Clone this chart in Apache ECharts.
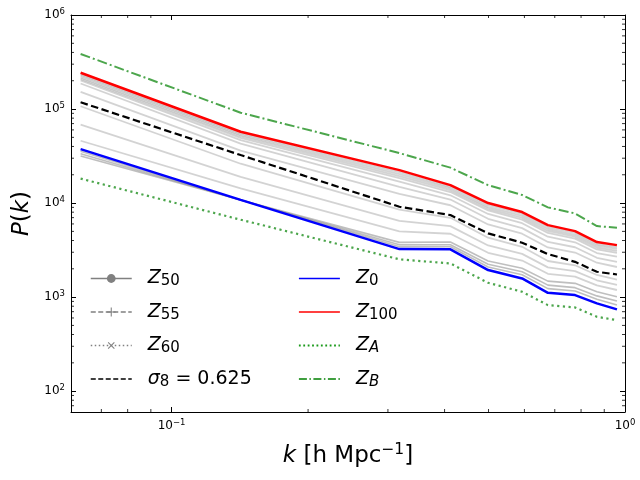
<!DOCTYPE html>
<html><head><meta charset="utf-8">
<script src="https://cdn.jsdelivr.net/npm/echarts@6/dist/echarts.min.js"></script>
<style>html,body{margin:0;padding:0;background:#fff}#c{width:640px;height:480px}</style>
</head><body><div id="c"></div>
<script>
// ---- data ----
const k = [0.063, 0.142, 0.318, 0.412, 0.499, 0.593, 0.676, 0.776, 0.867, 0.960];
const Z100 = [243000, 57400, 22400, 15500, 10000, 8020, 5830, 5030, 3850, 3570];
const Z0 = [37500, 10800, 3240, 3220, 1940, 1580, 1110, 1050, 857, 740];
const sigma8 = [118000, 32400, 9140, 7450, 4760, 3790, 2870, 2370, 1860, 1740];
const ZB = [385000, 91400, 34000, 23800, 15500, 12200, 9000, 7760, 5690, 5460];
const ZA = [18200, 6650, 2520, 2280, 1420, 1140, 822, 777, 617, 569];
const Z50 = [35500, 10800, 3440, 3430, 2090, 1730, 1230, 1160, 948, 826];
const Z55 = [33500, 10800, 3600, 3610, 2240, 1860, 1340, 1260, 1030, 908];
const Z60 = [31700, 10800, 3820, 3850, 2420, 2030, 1480, 1400, 1140, 1010];
const G1 = [234000, 55200, 21300, 14900, 9550, 7660, 5560, 4810, 3670, 3400];
const G2 = [226000, 53200, 20300, 14300, 9120, 7310, 5300, 4590, 3520, 3250];
const G3 = [217000, 51200, 19300, 13700, 8730, 6980, 5050, 4390, 3370, 3100];
const G4 = [209000, 49200, 18400, 13100, 8340, 6670, 4810, 4190, 3210, 2960];
const G5 = [202000, 46700, 16900, 12100, 7660, 6110, 4390, 3830, 2940, 2690];
const G6 = [187000, 42800, 14900, 10900, 6810, 5420, 3860, 3390, 2620, 2370];
const G7 = [152000, 36100, 12500, 9480, 5920, 4720, 3370, 2980, 2320, 2090];
const G8 = [107000, 26200, 8530, 6970, 4280, 3430, 2420, 2180, 1720, 1530];
const G9 = [68200, 19000, 6460, 5690, 3540, 2880, 2070, 1890, 1510, 1350];
const G10 = [46000, 14300, 5000, 4720, 2960, 2450, 1770, 1650, 1330, 1190];
const grayLines = [G1, G2, G3, G4, G5, G6, G7, G8, G9, G10];
const xMin = 0.06, xMax = 1, yMin = 60, yMax = 1e6;
const minorTicksX = [0.07, 0.08, 0.09, 0.2, 0.3, 0.4, 0.5, 0.6, 0.7, 0.8, 0.9];
const minorTicksY = [70, 80, 90, 200, 300, 400, 500, 600, 700, 800, 900,
  2000, 3000, 4000, 5000, 6000, 7000, 8000, 9000,
  20000, 30000, 40000, 50000, 60000, 70000, 80000, 90000,
  200000, 300000, 400000, 500000, 600000, 700000, 800000, 900000];
const legendLabels = {
  Z50: '{p| }{z|Z}{s|50}', Z55: '{p| }{z|Z}{s|55}', Z60: '{p| }{z|Z}{s|60}',
  sigma8: '{p| }{z|σ}{s|8}{r| = 0.625}',
  Z0: '{p| }{z|Z}{s|0}', Z100: '{p| }{z|Z}{s|100}', ZA: '{p| }{z|Z}{si|A}', ZB: '{p| }{z|Z}{si|B}'
};

// ---- chart ----
const F = 'DejaVu Sans';
const pts = arr => k.map((x, i) => [x, arr[i]]);
const plusPath = 'path://M4.4,0H5.6V4.4H10V5.6H5.6V10H4.4V5.6H0V4.4H4.4Z';
const expFmt = v => {
  const l = Math.log10(v), e = Math.round(l);
  if (Math.abs(l - e) > 1e-6) return '';
  return '{b|10}{e|' + (e < 0 ? '\u2212' + (-e) : e) + '}';
};
const tickRich = {
  b: {fontFamily: F, fontSize: 12, lineHeight: 16, color: '#000'},
  e: {fontFamily: F, fontSize: 8.5, lineHeight: 8, verticalAlign: 'top', color: '#000'}
};
const legRich = {
  p: {width: 11},
  z: {fontFamily: F, fontStyle: 'italic', fontSize: 19, lineHeight: 26, color: '#000'},
  s: {fontFamily: F, fontSize: 15, padding: [6, 0, 0, 0], color: '#000'},
  si: {fontFamily: F, fontStyle: 'italic', fontSize: 15, padding: [6, 0, 0, 0], color: '#000'},
  r: {fontFamily: F, fontSize: 19, lineHeight: 26, color: '#000'}
};
const nameRich = {
  i: {fontFamily: F, fontStyle: 'italic', fontSize: 23, lineHeight: 28, color: '#000'},
  r: {fontFamily: F, fontSize: 23, lineHeight: 28, color: '#000'},
  e: {fontFamily: F, fontSize: 15.5, lineHeight: 13, verticalAlign: 'top', color: '#000'}
};
const axLine = {show: true, lineStyle: {color: '#000', width: 1}};
const tick = {show: true, inside: true, length: 5, lineStyle: {color: '#000', width: 1}};

const series = [];
grayLines.forEach(g => series.push({
  type: 'line', data: pts(g), showSymbol: false, symbol: 'none', silent: true, z: 2,
  lineStyle: {color: '#808080', opacity: 0.35, width: 1.8}
}));
series.push(
  {name: 'Z50', type: 'line', data: pts(Z50), symbol: 'circle', showSymbol: false, z: 3, color: 'gray',
   lineStyle: {color: 'gray', width: 1.6, opacity: 0.5}},
  {name: 'Z55', type: 'line', data: pts(Z55), symbol: plusPath, showSymbol: false, z: 3, color: 'gray',
   lineStyle: {color: 'gray', width: 1.6, opacity: 0.5}},
  {name: 'Z60', type: 'line', data: pts(Z60), symbol: plusPath, symbolRotate: 45, showSymbol: false, z: 3, color: 'gray',
   lineStyle: {color: 'gray', width: 1.6, opacity: 0.5}},
  {name: 'sigma8', type: 'line', data: pts(sigma8), symbol: 'none', showSymbol: false, z: 4, color: '#000',
   lineStyle: {color: '#000', width: 2.2, type: [7.5, 3.5]}},
  {name: 'Z0', type: 'line', data: pts(Z0), symbol: 'none', showSymbol: false, z: 5, color: '#0000ff',
   lineStyle: {color: '#0000ff', width: 2.5}},
  {name: 'Z100', type: 'line', data: pts(Z100), symbol: 'none', showSymbol: false, z: 5, color: '#ff0000',
   lineStyle: {color: '#ff0000', width: 2.5}},
  {name: 'ZA', type: 'line', data: pts(ZA), symbol: 'none', showSymbol: false, z: 5, color: 'green',
   lineStyle: {color: 'green', opacity: 0.7, width: 2.2, type: [2.2, 3.5]}},
  {name: 'ZB', type: 'line', data: pts(ZB), symbol: 'none', showSymbol: false, z: 5, color: 'green',
   lineStyle: {color: 'green', opacity: 0.7, width: 2, type: [10, 3, 2, 3]}}
);
const tickSeries = (data, size, offset) => ({
  type: 'scatter', data, symbol: 'rect', symbolSize: size, symbolOffset: offset, silent: true, z: 10,
  itemStyle: {color: '#000'}, clip: false
});
series.push(
  tickSeries(minorTicksX.map(v => [v, yMin]), [1, 3], [0, -1.5]),
  tickSeries(minorTicksX.map(v => [v, yMax]), [1, 3], [0, 1.5]),
  tickSeries(minorTicksY.map(v => [xMin, v]), [3, 1], [1.5, 0]),
  tickSeries(minorTicksY.map(v => [xMax, v]), [3, 1], [-1.5, 0])
);

const hideSym = {opacity: 0};
const legendCommon = {
  orient: 'vertical', padding: 0, itemWidth: 41, itemHeight: 11, itemGap: 13.5,
  selectedMode: false, formatter: n => legendLabels[n], textStyle: {rich: legRich}
};
const option = {
  animation: false,
  backgroundColor: '#fff',
  grid: {left: 71, right: 15, top: 15, bottom: 68, containLabel: false, outerBoundsMode: 'none'},
  xAxis: [
    {type: 'log', min: xMin, max: xMax, position: 'bottom',
     name: '{i|k}{r| [h Mpc}{e|\u22121}{r|]}', nameLocation: 'middle', nameGap: 30,
     nameTextStyle: {rich: nameRich},
     axisLine: axLine, axisTick: tick, splitLine: {show: false},
     axisLabel: {formatter: expFmt, rich: tickRich, margin: 6, showMinLabel: false, showMaxLabel: true}},
    {type: 'log', min: xMin, max: xMax, position: 'top',
     axisLine: axLine, axisTick: tick, splitLine: {show: false}, axisLabel: {show: false}}
  ],
  yAxis: [
    {type: 'log', min: yMin, max: yMax, position: 'left',
     name: '{i|P}{r|(}{i|k}{r|)}', nameLocation: 'middle', nameGap: 34,
     nameTextStyle: {rich: nameRich},
     axisLine: axLine, axisTick: tick, splitLine: {show: false},
     axisLabel: {formatter: expFmt, rich: tickRich, margin: 6, showMinLabel: false}},
    {type: 'log', min: yMin, max: yMax, position: 'right',
     axisLine: axLine, axisTick: tick, splitLine: {show: false}, axisLabel: {show: false}}
  ],
  legend: [
    Object.assign({left: 90, top: 269, data: [
      {name: 'Z50', lineStyle: {color: 'gray', width: 1.5, opacity: 1}},
      {name: 'Z55', lineStyle: {color: 'gray', width: 1.5, opacity: 1, type: [5, 2.5]}},
      {name: 'Z60', lineStyle: {color: 'gray', width: 1.5, opacity: 1, type: [1.5, 2.5]}},
      {name: 'sigma8', itemStyle: hideSym, lineStyle: {color: '#000', width: 1.5, type: [5, 2.5]}}
    ]}, legendCommon),
    Object.assign({left: 298, top: 269, data: [
      {name: 'Z0', itemStyle: hideSym, lineStyle: {color: '#0000ff', width: 1.5}},
      {name: 'Z100', itemStyle: hideSym, lineStyle: {color: '#ff0000', width: 1.5}},
      {name: 'ZA', itemStyle: hideSym, lineStyle: {color: '#1a9a1a', width: 1.8, opacity: 1, type: [1.8, 2.6]}},
      {name: 'ZB', itemStyle: hideSym, lineStyle: {color: '#008000', width: 1.5, opacity: 1, type: [8, 2.5, 1.5, 2.5]}}
    ]}, legendCommon)
  ],
  series
};
const chart = echarts.init(document.getElementById('c'), null, {renderer: 'canvas'});
chart.setOption(option);
</script>
</body></html>
